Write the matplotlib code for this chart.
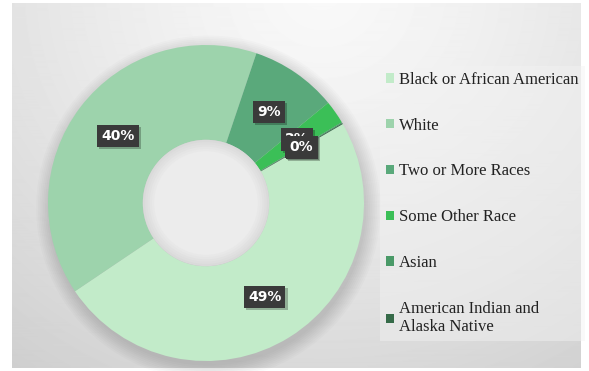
import numpy as np
import matplotlib
matplotlib.use("Agg")
import matplotlib.pyplot as plt
from matplotlib.patches import Circle
from matplotlib.font_manager import FontProperties
from matplotlib.transforms import offset_copy

# Population share by race (percent)
categories = [
    "Black or African American",
    "White",
    "Two or More Races",
    "Some Other Race",
    "Asian",
    "American Indian and\nAlaska Native",
]
shares = [48.9, 39.6, 8.9, 2.4, 0.1, 0.1]
colors = ["#c2ebc9", "#9dd3ac", "#5aa97b", "#3bbf57", "#4a9a68", "#366b49"]

W, H = 589, 371
fig = plt.figure(figsize=(W / 100, H / 100), dpi=100, facecolor="white")


def px(x0, y0, w, h):
    """Pixel box measured from the top-left corner -> figure fraction."""
    return [x0 / W, 1 - (y0 + h) / H, w / W, h / H]


# Soft grey radial backdrop
bg = fig.add_axes(px(12, 3, 569, 365))
yy, xx = np.mgrid[0:365, 0:569]
d = np.hypot((xx - 310) / 1.1, yy + 10)
shade = 0.975 - 0.17 * np.clip(d / 480, 0, 1) ** 1.3
bg.imshow(shade, cmap="gray", vmin=0, vmax=1, aspect="auto",
          interpolation="bilinear")
bg.axis("off")

# Doughnut
ax = fig.add_axes(px(48, 45, 316, 316))
ax.patch.set_alpha(0)
for r in np.linspace(1.0, 1.09, 9):
    ax.add_patch(Circle((0.015, -0.03), r, color="black", alpha=0.016, lw=0,
                        clip_on=False))

wedges, _ = ax.pie(shares, colors=colors, startangle=30, counterclock=False,
                   radius=1, wedgeprops=dict(width=0.6, linewidth=0,
                                             clip_on=False))

# Hole with a soft inner edge
hole_r = 0.4
for i, r in enumerate(np.linspace(hole_r, hole_r * 0.82, 6)):
    g = 0.855 + 0.014 * i
    ax.add_patch(Circle((0, 0), r, color=(g, g, g), lw=0, zorder=3))

# Value labels in dark boxes
for w, s in zip(wedges, shares):
    theta = np.deg2rad((w.theta1 + w.theta2) / 2)
    x, y = 0.7 * np.cos(theta), 0.7 * np.sin(theta)
    label = f"{round(s)}%"
    shadow_tr = offset_copy(ax.transData, fig=fig, x=1.5, y=-1.5, units="points")
    ax.text(x, y, label, transform=shadow_tr, ha="center", va="center",
            fontsize=10, fontweight="bold", color="none", zorder=4,
            bbox=dict(boxstyle="square,pad=0.3", fc="black", ec="none", alpha=0.25))
    ax.text(x, y, label, ha="center", va="center", fontsize=10,
            fontweight="bold", color="white", zorder=5,
            bbox=dict(boxstyle="square,pad=0.3", fc="#3a3a3a", ec="none"))

ax.set_xlim(-1, 1)
ax.set_ylim(-1, 1)
ax.axis("off")

# Legend
leg = fig.legend(wedges, categories, loc="upper left",
                 bbox_to_anchor=(380 / W, 1 - 66 / H),
                 prop=FontProperties(family="Liberation Serif", size=12),
                 frameon=True, fancybox=False, handlelength=0.5,
                 handleheight=0.5, handletextpad=0.3, labelspacing=1.79,
                 borderpad=0.35, borderaxespad=0)
leg.get_frame().set_facecolor("#f3f3f3")
leg.get_frame().set_edgecolor("none")
leg.get_frame().set_alpha(0.45)
for t in leg.get_texts():
    t.set_color("#222222")

fig.savefig("out.png", dpi=100, facecolor="white")
